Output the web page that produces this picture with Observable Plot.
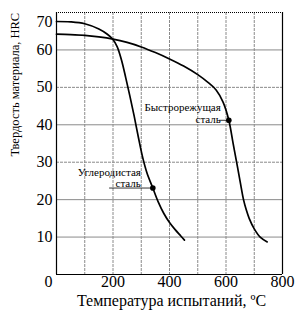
<!DOCTYPE html>
<html>
<head>
<meta charset="utf-8">
<script src="https://cdn.jsdelivr.net/npm/d3@7"></script>
<script src="https://cdn.jsdelivr.net/npm/@observablehq/plot@0.6"></script>
<style>
  html, body { margin: 0; padding: 0; background: #fff; }
  #chart svg { display: block; }
  #chart svg, #chart svg text, #chart svg tspan { font-family: 'Liberation Serif', 'DejaVu Serif', serif !important; }
</style>
</head>
<body>
<div id="chart"></div>
<script>
// Carbon steel (Углеродистая сталь): temperature (°C) and hardness (HRC)
const carbonT = [0, 50, 100, 150, 180, 200, 215, 230, 245, 260, 275, 290, 305, 320, 341, 360, 380, 400, 420, 440, 453];
const carbonH = [67.6, 67.5, 67, 65.6, 64.2, 62.8, 60.8, 57.3, 52.6, 47.6, 42.3, 36.6, 31.3, 27.2, 23.1, 19.4, 16.3, 13.9, 12, 10.3, 9.2];
// High-speed steel (Быстрорежущая сталь)
const hssT = [0, 50, 100, 150, 200, 250, 300, 350, 400, 450, 500, 535, 565, 590, 610, 625, 640, 652, 662, 672, 682, 700, 722, 746];
const hssH = [64.2, 64.1, 63.9, 63.5, 62.9, 62, 60.8, 59.3, 57.6, 55.7, 53.4, 51.4, 49.3, 46, 41.2, 35.1, 29, 24, 20, 17.2, 15, 12.2, 9.9, 8.7];
// Labelled points
const labelNames = ["Углеродистая\nсталь", "Быстрорежущая\nсталь"];
const labelT = [341, 610];
const labelH = [23.1, 41.2];
const leaderFromT = [188, 577];
// Ticks
const xTicks = [0, 200, 400, 600, 800];
const yTicks = [10, 20, 30, 40, 50, 60, 70];
const solidGridY = [10, 20, 40, 60];
const dashedGridY = [30, 50];
const gridX = [100, 200, 300, 400, 500, 600, 700];
const xLabel = "Температура испытаний, ºC";
const yLabel = "Твердость материала, HRC";

const carbon = carbonT.map((t, i) => ({t, h: carbonH[i]}));
const hss = hssT.map((t, i) => ({t, h: hssH[i]}));
const pts = labelNames.map((name, i) => ({name, t: labelT[i], h: labelH[i], t0: leaderFromT[i]}));

const serif = "Liberation Serif, DejaVu Serif, serif";

const chart = Plot.plot({
  width: 295,
  height: 319,
  marginLeft: 56,
  marginRight: 13,
  marginTop: 12,
  marginBottom: 45,
  x: {domain: [0, 800], axis: null},
  y: {domain: [0, 70], axis: null},
  marks: [
    // grid
    Plot.ruleX(gridX, {stroke: "#8a8a8a", strokeWidth: 1, strokeDasharray: "3,1", strokeOpacity: 1}),
    Plot.ruleY(solidGridY, {stroke: "#8a8a8a", strokeWidth: 1, strokeOpacity: 1}),
    Plot.ruleY(dashedGridY, {stroke: "#8a8a8a", strokeWidth: 1, strokeDasharray: "3,1", strokeOpacity: 1}),
    // frame
    Plot.ruleY([70], {stroke: "#000", strokeWidth: 1, strokeDasharray: "1,1"}),
    Plot.ruleX([0, 800], {stroke: "#000", strokeWidth: 1.2}),
    Plot.ruleY([0], {stroke: "#000", strokeWidth: 1.2}),
    // curves
    Plot.line(carbon, {x: "t", y: "h", stroke: "#000", strokeWidth: 1.7, curve: "catmull-rom"}),
    Plot.line(hss, {x: "t", y: "h", stroke: "#000", strokeWidth: 1.7, curve: "catmull-rom"}),
    // leaders and markers
    Plot.ruleY(pts, {y: "h", x1: "t0", x2: "t", stroke: "#000", strokeWidth: 0.8}),
    Plot.dot(pts, {x: "t", y: "h", r: 2.8, fill: "#000", stroke: "none"}),
    Plot.text(pts.filter((d, i) => i === 0), {x: "t", y: "h", text: "name", textAnchor: "end", lineAnchor: "bottom", lineHeight: 1.0, fontSize: 11, fontFamily: serif, dx: -12, dy: -1, fill: "#000"}),
    Plot.text(pts.filter((d, i) => i === 1), {x: "t", y: "h", text: "name", textAnchor: "end", lineAnchor: "bottom", lineHeight: 1.1, fontSize: 11, fontFamily: serif, dx: -8, dy: 3, fill: "#000"}),
    // axes tick labels
    Plot.text(xTicks.filter(d => d > 0), {x: d => d, y: 0, text: d => String(d), lineAnchor: "top", dy: 1, fontSize: 16, fontFamily: serif, fill: "#000"}),
    Plot.text([0], {x: d => d, y: 0, text: d => String(d), lineAnchor: "top", dy: 1, dx: -8, fontSize: 16, fontFamily: serif, fill: "#000"}),
    Plot.text(yTicks.filter(d => d < 70), {x: 0, y: d => d, text: d => String(d), textAnchor: "end", dx: -4, fontSize: 16, fontFamily: serif, fill: "#000"}),
    Plot.text([70], {x: 0, y: d => d, text: d => String(d), textAnchor: "end", dx: -4, dy: 9, fontSize: 16, fontFamily: serif, fill: "#000"}),
    // axis titles
    Plot.text([xLabel], {frameAnchor: "bottom", text: d => d, dy: 31, dx: 2, fontSize: 16, fontFamily: serif, fill: "#000"}),
    Plot.text([yLabel], {frameAnchor: "left", text: d => d, rotate: -90, dx: -42, dy: 13, fontSize: 12.5, fontFamily: serif, fill: "#000"})
  ]
});
document.getElementById("chart").appendChild(chart);
</script>
</body>
</html>
